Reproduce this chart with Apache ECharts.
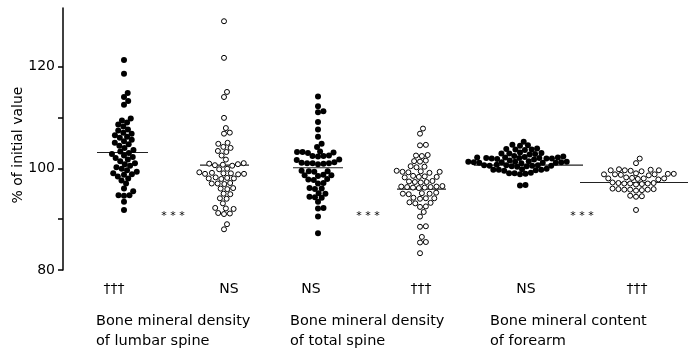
<!DOCTYPE html>
<html>
<head>
<meta charset="utf-8">
<script src="https://cdn.jsdelivr.net/npm/echarts@6/dist/echarts.min.js"></script>
<style>
  html, body { margin: 0; background: #fff; }
  #chart { width: 693px; height: 350px; }
</style>
</head>
<body>
<div id="chart"></div>
<script>
// % of initial value
const lumbarTreated = [
  121.3, 118.6, 114.8, 114.0, 113.2, 112.5, 109.8, 109.4, 109.0, 108.6, 108.2,
  107.6, 107.4, 107.0, 106.8, 106.5, 106.2, 106.0, 105.6, 105.3, 105.0, 104.7,
  104.4, 104.0, 103.6, 103.3, 103.0, 102.8, 102.5, 102.2, 102.0, 101.7, 101.4,
  101.0, 100.8, 100.5, 100.2, 99.9, 99.6, 99.3, 99.0, 98.8, 98.7, 98.4, 98.0,
  97.6, 97.0, 96.0, 95.5, 94.7, 94.7, 94.6, 93.4, 91.8
];
const lumbarControl = [
  128.9, 121.7, 115.0, 114.0, 109.9, 107.9, 107.0, 106.8, 105.0, 104.8, 104.2,
  104.0, 103.4, 103.2, 102.5, 101.7, 101.0, 100.9, 100.8, 100.7, 100.6, 100.5,
  99.9, 99.8, 99.1, 99.0, 98.9, 98.8, 98.9, 99.2, 99.0, 98.1, 98.0, 97.9, 98.0,
  98.2, 97.0, 97.1, 96.9, 97.0, 96.0, 96.1, 95.9, 95.0, 94.9, 94.1, 94.0, 93.1,
  92.1, 92.0, 92.2, 91.1, 91.0, 91.2, 89.0, 88.0
];
const totalTreated = [
  114.1, 112.2, 111.2, 111.0, 109.1, 107.6, 106.2, 104.8, 104.2, 103.2, 103.3,
  103.1, 103.2, 103.0, 102.4, 102.5, 102.3, 102.4, 101.6, 101.7, 101.0, 101.1,
  100.9, 101.0, 101.2, 100.8, 101.0, 99.4, 99.5, 99.3, 99.4, 98.6, 98.7, 98.5,
  98.6, 97.8, 97.9, 97.7, 97.0, 97.1, 96.0, 96.1, 95.9, 95.0, 95.1, 94.3, 94.4,
  94.2, 93.4, 92.1, 92.2, 90.5, 87.2
];
const totalControl = [
  107.8, 106.8, 104.5, 104.6, 102.5, 102.6, 102.4, 101.4, 101.5, 101.3, 100.3,
  100.4, 100.2, 99.3, 99.4, 99.2, 99.3, 99.5, 99.1, 98.3, 98.4, 98.2, 98.3, 98.5,
  97.3, 97.4, 97.2, 97.3, 97.5, 96.3, 96.4, 96.2, 96.3, 96.5, 96.1, 96.4, 96.2,
  95.0, 95.1, 94.9, 95.0, 95.2, 94.1, 94.2, 94.0, 94.1, 93.2, 93.3, 93.1, 92.4,
  92.5, 91.4, 90.5, 88.5, 88.6, 86.5, 85.4, 85.5, 83.3
];
const forearmTreated = [
  105.2, 104.5, 104.6, 104.4, 103.7, 103.8, 103.6, 103.7, 103.9, 102.9, 103.0,
  102.8, 102.9, 103.1, 102.7, 102.0, 102.1, 101.9, 102.0, 102.2, 101.8, 102.0,
  102.1, 101.9, 102.3, 101.2, 101.3, 101.1, 101.2, 101.4, 101.0, 101.2, 101.3,
  101.1, 101.5, 100.5, 100.6, 100.4, 100.5, 100.7, 100.3, 100.5, 100.6, 99.7,
  99.8, 99.6, 99.7, 99.9, 99.5, 99.7, 99.0, 99.1, 98.9, 99.0, 98.8, 96.7, 96.6,
  102.1, 101.9, 101.3, 101.1, 100.6, 100.4, 101.7, 102.4
];
const forearmControl = [
  101.9, 101.0, 99.6, 99.7, 99.5, 99.6, 99.8, 99.4, 99.6, 98.8, 98.9, 98.7,
  98.8, 99.0, 98.6, 98.8, 98.9, 98.0, 98.1, 97.9, 98.0, 98.2, 97.8, 98.0, 97.0,
  97.1, 96.9, 97.0, 97.2, 96.8, 97.0, 97.1, 95.8, 95.9, 95.7, 95.8,
  96.0, 95.6, 95.8, 95.9, 94.5, 94.6, 94.4, 91.8
];
const groups = [lumbarTreated, lumbarControl, totalTreated, totalControl, forearmTreated, forearmControl];
const groupFilled = [true, false, true, false, true, false];
const groupMeans = [103.1, 100.6, 100.1, 95.9, 100.6, 97.2];
const significance = ["†††", "NS", "NS", "†††", "NS", "†††"];
const categories = [
  "Bone mineral density\nof lumbar spine",
  "Bone mineral density\nof total spine",
  "Bone mineral content\nof forearm"
];
const yTicks = [80, 90, 100, 110, 120];
const yLabels = [80, 100, 120];

// layout (pixels)
const groupX = [124, 224, 318, 420, 520, 636];
const meanLineX = [[97, 148], [200, 249], [293, 343], [397, 446], [474, 583], [580, 688]];
const sigX = [114, 229, 311, 421, 526, 637];
const starsX = [173, 368, 582];
const categoryX = [96, 290, 490];

const FONT = "DejaVu Sans";
const chart = echarts.init(document.getElementById("chart"));
chart.setOption({
  animation: false,
  grid: { left: 63, right: 0, top: 8, bottom: 80 },
  xAxis: { type: "value", min: 0, max: 630, show: false },
  yAxis: {
    type: "value", min: 80, max: 131.5,
    axisLine: { show: true, lineStyle: { color: "#000", width: 1.5 } },
    axisTick: { show: true, length: 5, customValues: yTicks, lineStyle: { color: "#000", width: 1.5 } },
    axisLabel: { customValues: yLabels, margin: 8, fontFamily: FONT, fontSize: 14, color: "#000" },
    splitLine: { show: false }
  },
  series: [{ type: "scatter", data: [] }]
});

function swarm(values, cx, diam) {
  const pts = values.map(v => ({ v, y: chart.convertToPixel({ yAxisIndex: 0 }, v) }))
    .sort((a, b) => a.v - b.v);
  const placed = [];
  pts.forEach(p => {
    const near = placed.filter(q => Math.abs(q.y - p.y) < diam);
    const cands = [cx];
    near.forEach(q => {
      const dx = Math.sqrt(diam * diam - (q.y - p.y) ** 2);
      cands.push(q.x + dx, q.x - dx);
    });
    cands.sort((a, b) => Math.abs(a - cx) - Math.abs(b - cx));
    p.x = cands.find(c => near.every(q => (q.x - c) ** 2 + (q.y - p.y) ** 2 >= diam * diam - 0.01));
    placed.push(p);
  });
  return placed.map(p => [chart.convertFromPixel({ xAxisIndex: 0 }, p.x), p.v]);
}

const series = [];
groups.forEach((vals, i) => {
  const filled = groupFilled[i];
  series.push({
    type: "scatter",
    symbol: "circle",
    symbolSize: filled ? 6 : 5,
    data: swarm(vals, groupX[i], filled ? 5.5 : 5.9),
    itemStyle: filled
      ? { color: "#000", opacity: 1 }
      : { color: "#fff", borderColor: "#000", borderWidth: 1, opacity: 1 },
    z: 3
  });
  series.push({
    type: "line",
    symbol: "none",
    data: meanLineX[i].map(px => [chart.convertFromPixel({ xAxisIndex: 0 }, px), groupMeans[i]]),
    lineStyle: { color: "#222", width: 1.2 },
    z: 2
  });
});

const graphic = [{
  type: "text", x: 18, y: 145, rotation: Math.PI / 2,
  style: { text: "% of initial value", font: "14px " + FONT, fill: "#000", align: "center", verticalAlign: "middle" }
}];
significance.forEach((s, i) => graphic.push({
  type: "text", x: sigX[i], y: 289,
  style: { text: s, font: "14px " + FONT, fill: "#000", align: "center", verticalAlign: "middle" }
}));
starsX.forEach(x => graphic.push({
  type: "text", x: x, y: 216,
  style: { text: "* * *", font: "11px " + FONT, fill: "#000", align: "center", verticalAlign: "middle" }
}));
categories.forEach((c, i) => graphic.push({
  type: "text", x: categoryX[i], y: 311,
  style: { text: c, font: "14.5px " + FONT, fill: "#000", lineHeight: 20, align: "left", verticalAlign: "top" }
}));

chart.setOption({ series: series, graphic: graphic });
</script>
</body>
</html>
